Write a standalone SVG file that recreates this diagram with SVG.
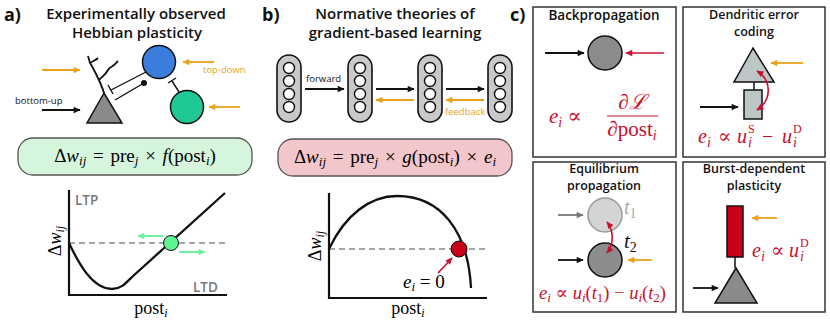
<svg xmlns="http://www.w3.org/2000/svg" width="830" height="323" viewBox="0 0 830 323">
<style>
.ttl{font-family:"Open Sans","Noto Sans",sans-serif;font-weight:600;fill:#111;text-anchor:middle}
.lbl{font-family:"Open Sans","Noto Sans",sans-serif;font-weight:700;fill:#111}
.sm{font-family:"Open Sans","Noto Sans",sans-serif;font-size:9.5px}
.m{font-family:"Liberation Serif","DejaVu Serif",serif}
.it{font-style:italic}
.red{fill:#c8102e}
.blk{stroke:#111;stroke-width:1.8;fill:none}
.org{stroke:#eaa21a;stroke-width:1.8;fill:none}
.rdl{stroke:#c8102e;stroke-width:1.6;fill:none}
.gry{stroke:#777;stroke-width:1.8;fill:none}
.grn{stroke:#6cf0a0;stroke-width:2;fill:none}
.box{fill:#fff;stroke:#333;stroke-width:1.5}
.dash{stroke:#888;stroke-width:1.5;stroke-dasharray:6 4;fill:none}
.axis{stroke:#111;stroke-width:2.2;fill:none}
.pill{fill:#c9c9c9;stroke:#111;stroke-width:1.6}
.unit{fill:#fff;stroke:#111;stroke-width:1.4}
</style>
<defs>
<marker id="aK" viewBox="0 0 10 10" refX="9" refY="5" markerWidth="8" markerHeight="7" markerUnits="userSpaceOnUse" orient="auto"><path d="M0,0.5 L10,5 L0,9.5 z" fill="#111"/></marker>
<marker id="aO" viewBox="0 0 10 10" refX="9" refY="5" markerWidth="8" markerHeight="7" markerUnits="userSpaceOnUse" orient="auto"><path d="M0,0.5 L10,5 L0,9.5 z" fill="#eaa21a"/></marker>
<marker id="aR" viewBox="0 0 10 10" refX="9" refY="5" markerWidth="8" markerHeight="7" markerUnits="userSpaceOnUse" orient="auto-start-reverse"><path d="M0,0.5 L10,5 L0,9.5 z" fill="#c8102e"/></marker>
<marker id="aG" viewBox="0 0 10 10" refX="9" refY="5" markerWidth="8" markerHeight="7" markerUnits="userSpaceOnUse" orient="auto"><path d="M0,0.5 L10,5 L0,9.5 z" fill="#777"/></marker>
<marker id="aN" viewBox="0 0 10 10" refX="9" refY="5" markerWidth="8" markerHeight="7" markerUnits="userSpaceOnUse" orient="auto"><path d="M0,0.5 L10,5 L0,9.5 z" fill="#6cf0a0"/></marker>
</defs>

<!-- ===== Panel a ===== -->
<g id="panel-a-title">
<text x="4" y="21" class="lbl" font-size="18">a)</text>
<text x="136" y="19" class="ttl" font-size="15">Experimentally observed</text>
<text x="137" y="38" class="ttl" font-size="15">Hebbian plasticity</text>
</g>
<g id="neuron-pyramidal">
<path d="M104,93 C102,86 99,80 96,74 C94,70 92,66 90,63 M90,63 L88,56 M90,63 C93,61 96,60 98,58 M99,80 C103,76 106,74 108,70 C110,66 113,67 115,64 L118,61" class="blk" stroke-width="1.4"/>
<polygon points="104,93 87,123 122,123" fill="#8a8a8a" stroke="#111" stroke-width="1.5"/>
</g>
<g id="neuron-blue"><circle cx="159" cy="62" r="16.5" fill="#3b7ddd" stroke="#111" stroke-width="1.5"/></g>
<g id="neuron-green"><circle cx="187" cy="107" r="16.5" fill="#1fc995" stroke="#111" stroke-width="1.5"/></g>
<g id="connectors-a">
<line x1="42" y1="70" x2="80" y2="70" class="org" marker-end="url(#aO)"/>
<line x1="42" y1="110" x2="80" y2="110" class="blk" marker-end="url(#aK)"/>
<line x1="214" y1="62" x2="183" y2="62" class="org" marker-end="url(#aO)"/>
<line x1="240" y1="107" x2="209" y2="107" class="org" marker-end="url(#aO)"/>
<line x1="146" y1="72" x2="111" y2="90" stroke="#111" stroke-width="1.4"/>
<line x1="108" y1="85" x2="113" y2="94" stroke="#111" stroke-width="1.4"/>
<line x1="115" y1="100" x2="144" y2="83" stroke="#111" stroke-width="1.4"/>
<circle cx="144" cy="83" r="3" fill="#111"/>
<line x1="179" y1="92" x2="172" y2="81" stroke="#111" stroke-width="1.4"/>
<line x1="168" y1="83" x2="176" y2="78" stroke="#111" stroke-width="1.4"/>
</g>
<text x="15" y="104" class="sm" fill="#111">bottom-up</text>
<text x="203" y="73" class="sm" fill="#eaa21a">top-down</text>

<g id="eq-a">
<rect x="18" y="138" width="234" height="37" rx="15" fill="#d5f6dd" stroke="#555" stroke-width="1.3"/>
<text x="135" y="162" text-anchor="middle" class="m" font-size="19">Δ<tspan class="it">w</tspan><tspan class="it" font-size="13" dy="3">ij</tspan><tspan dy="-3" dx="2"> = </tspan><tspan dx="2">pre</tspan><tspan class="it" font-size="13" dy="3">j</tspan><tspan dy="-3" dx="2"> × </tspan><tspan class="it" dx="2">f</tspan>(post<tspan class="it" font-size="13" dy="3">i</tspan><tspan dy="-3">)</tspan></text>
</g>

<g id="graph-a">
<line x1="69" y1="243" x2="227" y2="243" class="dash"/>
<path d="M69,190 L69,295 L227,295" class="axis"/>
<path d="M69,243 C78,262 92,289 112,289 C121,289 126,283 132,277 L225,193" fill="none" stroke="#111" stroke-width="2.3"/>
<line x1="163" y1="236" x2="138" y2="236" class="grn" marker-end="url(#aN)"/>
<line x1="179" y1="252" x2="205" y2="252" class="grn" marker-end="url(#aN)"/>
<circle cx="171" cy="243" r="7.5" fill="#5ef393" stroke="#111" stroke-width="1"/>
<text x="75" y="205" font-family="Open Sans, Noto Sans, sans-serif" font-weight="600" font-size="13.5" fill="#777">LTP</text>
<text x="193" y="292" font-family="Open Sans, Noto Sans, sans-serif" font-weight="600" font-size="13.5" fill="#777">LTD</text>
<text transform="translate(61,241) rotate(-90)" text-anchor="middle" class="m" font-size="18">Δ<tspan class="it">w</tspan><tspan class="it" font-size="12" dy="3">ij</tspan></text>
<text x="151" y="314" text-anchor="middle" class="m" font-size="18">post<tspan class="it" font-size="12" dy="3">i</tspan></text>
</g>

<!-- ===== Panel b ===== -->
<g id="panel-b-title">
<text x="262" y="21" class="lbl" font-size="18">b)</text>
<text x="395" y="19" class="ttl" font-size="15">Normative theories of</text>
<text x="395" y="38" class="ttl" font-size="15">gradient-based learning</text>
</g>
<g id="layer-1">
<rect x="277" y="55" width="24" height="67" rx="12" class="pill"/>
<circle cx="289" cy="68" r="5.5" class="unit"/><circle cx="289" cy="81" r="5.5" class="unit"/><circle cx="289" cy="94" r="5.5" class="unit"/><circle cx="289" cy="107" r="5.5" class="unit"/>
</g>
<g id="layer-2">
<rect x="348" y="55" width="24" height="67" rx="12" class="pill"/>
<circle cx="360" cy="68" r="5.5" class="unit"/><circle cx="360" cy="81" r="5.5" class="unit"/><circle cx="360" cy="94" r="5.5" class="unit"/><circle cx="360" cy="107" r="5.5" class="unit"/>
</g>
<g id="layer-3">
<rect x="418" y="55" width="24" height="67" rx="12" class="pill"/>
<circle cx="430" cy="68" r="5.5" class="unit"/><circle cx="430" cy="81" r="5.5" class="unit"/><circle cx="430" cy="94" r="5.5" class="unit"/><circle cx="430" cy="107" r="5.5" class="unit"/>
</g>
<g id="layer-4">
<rect x="488" y="55" width="24" height="67" rx="12" class="pill"/>
<circle cx="500" cy="68" r="5.5" class="unit"/><circle cx="500" cy="81" r="5.5" class="unit"/><circle cx="500" cy="94" r="5.5" class="unit"/><circle cx="500" cy="107" r="5.5" class="unit"/>
</g>
<g id="connectors-b">
<line x1="305" y1="89" x2="344" y2="89" class="blk" marker-end="url(#aK)"/>
<line x1="376" y1="89" x2="414" y2="89" class="blk" marker-end="url(#aK)"/>
<line x1="446" y1="89" x2="484" y2="89" class="blk" marker-end="url(#aK)"/>
<line x1="414" y1="100" x2="376" y2="100" class="org" marker-end="url(#aO)"/>
<line x1="484" y1="100" x2="446" y2="100" class="org" marker-end="url(#aO)"/>
</g>
<text x="306" y="82" class="sm" fill="#111">forward</text>
<text x="445" y="115" class="sm" fill="#eaa21a">feedback</text>

<g id="eq-b">
<rect x="278" y="139" width="234" height="37" rx="15" fill="#f3c6cc" stroke="#555" stroke-width="1.3"/>
<text x="395" y="163" text-anchor="middle" class="m" font-size="19">Δ<tspan class="it">w</tspan><tspan class="it" font-size="13" dy="3">ij</tspan><tspan dy="-3" dx="2"> = </tspan><tspan dx="2">pre</tspan><tspan class="it" font-size="13" dy="3">j</tspan><tspan dy="-3" dx="2"> × </tspan><tspan class="it" dx="2">g</tspan>(post<tspan class="it" font-size="13" dy="3">i</tspan><tspan dy="-3">)</tspan><tspan dx="2"> × </tspan><tspan class="it" dx="2">e</tspan><tspan class="it" font-size="13" dy="3">i</tspan></text>
</g>

<g id="graph-b">
<line x1="329" y1="249" x2="487" y2="249" class="dash"/>
<path d="M329,193 L329,298 L487,298" class="axis"/>
<path d="M329,249 C345,215 370,196 397,196 C440,196 468,230 471,288" fill="none" stroke="#111" stroke-width="2.3"/>
<line x1="438" y1="273" x2="452" y2="258" class="rdl" marker-end="url(#aR)"/>
<circle cx="459" cy="249" r="8" fill="#c8001a" stroke="#111" stroke-width="1"/>
<text x="403" y="288" class="m" font-size="19"><tspan class="it">e</tspan><tspan class="it" font-size="13" dy="3">i</tspan><tspan dy="-3"> = 0</tspan></text>
<text transform="translate(321,246) rotate(-90)" text-anchor="middle" class="m" font-size="18">Δ<tspan class="it">w</tspan><tspan class="it" font-size="12" dy="3">ij</tspan></text>
<text x="408" y="314" text-anchor="middle" class="m" font-size="18">post<tspan class="it" font-size="12" dy="3">i</tspan></text>
</g>

<!-- ===== Panel c ===== -->
<text x="510" y="21" class="lbl" font-size="18">c)</text>

<g id="box-backprop">
<rect x="533" y="7" width="143" height="150" class="box"/>
<text x="604" y="20" class="ttl" font-size="13.5">Backpropagation</text>
<circle cx="605" cy="53" r="17" fill="#8c8c8c" stroke="#111" stroke-width="1.5"/>
<line x1="545" y1="53" x2="584" y2="53" class="blk" marker-end="url(#aK)"/>
<line x1="664" y1="53" x2="626" y2="53" class="rdl" stroke-width="1.8" marker-end="url(#aR)"/>
<text x="549" y="123" class="m red" font-size="21"><tspan class="it">e</tspan><tspan class="it" font-size="14" dy="4">i</tspan><tspan dy="-4"> ∝</tspan></text>
<text x="632" y="109" text-anchor="middle" class="m red" font-size="21">∂<tspan class="it">ℒ</tspan></text>
<line x1="607" y1="116" x2="658" y2="116" stroke="#c8102e" stroke-width="1.2"/>
<text x="632" y="136" text-anchor="middle" class="m red" font-size="21">∂post<tspan class="it" font-size="14" dy="4">i</tspan></text>
</g>

<g id="box-dendritic">
<rect x="683" y="7" width="142" height="150" class="box"/>
<text x="754" y="18.5" class="ttl" font-size="12.5">Dendritic error</text>
<text x="754" y="35.5" class="ttl" font-size="12.5">coding</text>
<line x1="754" y1="82" x2="754" y2="90" stroke="#111" stroke-width="1.5"/>
<polygon points="753,48 734,82 774,82" fill="#bcc6c6" stroke="#111" stroke-width="1.5"/>
<rect x="744" y="90" width="18" height="29" fill="#bcc6c6" stroke="#111" stroke-width="1.5"/>
<line x1="803" y1="63" x2="771" y2="63" class="org" marker-end="url(#aO)"/>
<line x1="700" y1="107" x2="738" y2="107" class="blk" marker-end="url(#aK)"/>
<path d="M757,71 C772,80 772,100 757,110" class="rdl" marker-start="url(#aR)" marker-end="url(#aR)"/>
<text y="143" class="m red" font-size="20"><tspan x="698" class="it">e</tspan><tspan x="707" dy="4" font-size="14" class="it">i</tspan><tspan x="718" dy="-4">∝</tspan><tspan x="737" class="it">u</tspan><tspan x="748" dy="-10" font-size="12">S</tspan><tspan x="748" dy="14" font-size="14" class="it">i</tspan><tspan x="762" dy="-4">−</tspan><tspan x="782" class="it">u</tspan><tspan x="793" dy="-10" font-size="12">D</tspan><tspan x="793" dy="14" font-size="14" class="it">i</tspan></text>
</g>

<g id="box-equilibrium">
<rect x="533" y="162" width="143" height="150" class="box"/>
<text x="604" y="173" class="ttl" font-size="12.5">Equilibrium</text>
<text x="604" y="190" class="ttl" font-size="12.5">propagation</text>
<circle cx="605" cy="215" r="17" fill="#d4d4d4" stroke="#9a9a9a" stroke-width="1.5"/>
<circle cx="605" cy="260" r="17" fill="#8c8c8c" stroke="#111" stroke-width="1.5"/>
<line x1="558" y1="215" x2="583" y2="215" class="gry" marker-end="url(#aG)"/>
<line x1="558" y1="260" x2="583" y2="260" class="blk" marker-end="url(#aK)"/>
<line x1="652" y1="260" x2="628" y2="260" class="org" marker-end="url(#aO)"/>
<path d="M607,222 C614,231 614,244 607,253" class="rdl" marker-start="url(#aR)" marker-end="url(#aR)"/>
<text x="624" y="214" class="m it" font-size="20" fill="#aaa">t<tspan font-size="14" dy="4" font-style="normal">1</tspan></text>
<text x="624" y="248" class="m it" font-size="21" fill="#111">t<tspan font-size="14" dy="4" font-style="normal">2</tspan></text>
<text x="539" y="299" class="m red" font-size="18.5"><tspan class="it">e</tspan><tspan class="it" font-size="13" dy="3">i</tspan><tspan dy="-3"> ∝ </tspan><tspan class="it">u</tspan><tspan class="it" font-size="13" dy="3">i</tspan><tspan dy="-3">(</tspan><tspan class="it">t</tspan><tspan font-size="13" dy="3">1</tspan><tspan dy="-3">) − </tspan><tspan class="it">u</tspan><tspan class="it" font-size="13" dy="3">i</tspan><tspan dy="-3">(</tspan><tspan class="it">t</tspan><tspan font-size="13" dy="3">2</tspan><tspan dy="-3">)</tspan></text>
</g>

<g id="box-burst">
<rect x="683" y="162" width="142" height="150" class="box"/>
<text x="754" y="173" class="ttl" font-size="12.5">Burst-dependent</text>
<text x="754" y="190" class="ttl" font-size="12.5">plasticity</text>
<line x1="735" y1="257" x2="735" y2="268" stroke="#111" stroke-width="1.5"/>
<rect x="727" y="206" width="16" height="51" fill="#c8001a" stroke="#111" stroke-width="1.5"/>
<polygon points="736,268 715,303 757,303" fill="#8a8a8a" stroke="#111" stroke-width="1.5"/>
<line x1="777" y1="218" x2="752" y2="218" class="org" marker-end="url(#aO)"/>
<line x1="693" y1="288" x2="718" y2="288" class="blk" marker-end="url(#aK)"/>
<text y="257" class="m red" font-size="20"><tspan x="752" class="it">e</tspan><tspan x="761" dy="4" font-size="14" class="it">i</tspan><tspan x="771" dy="-4">∝</tspan><tspan x="789" class="it">u</tspan><tspan x="800" dy="-10" font-size="12">D</tspan><tspan x="800" dy="14" font-size="14" class="it">i</tspan></text>
</g>
</svg>
